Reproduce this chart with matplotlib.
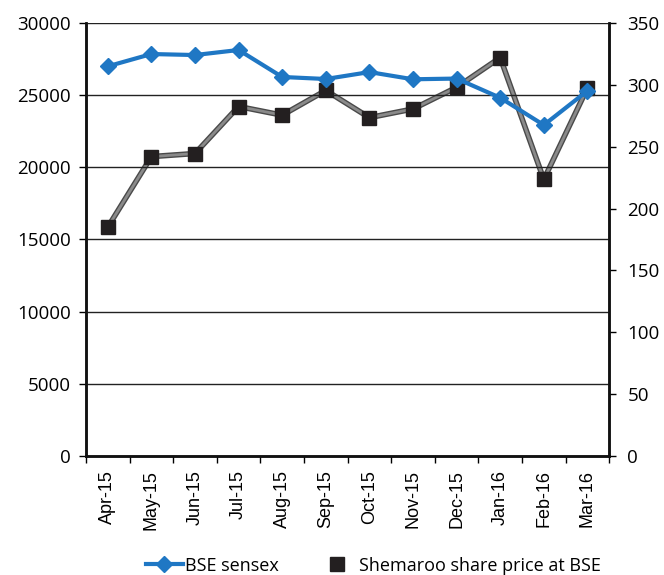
import matplotlib
matplotlib.use("Agg")
import matplotlib.pyplot as plt
import matplotlib.patheffects as pe
from matplotlib.lines import Line2D
import numpy as np

months = ["Apr-15", "May-15", "Jun-15", "Jul-15", "Aug-15", "Sep-15",
          "Oct-15", "Nov-15", "Dec-15", "Jan-16", "Feb-16", "Mar-16"]
sensex = [27000, 27850, 27780, 28130, 26260, 26120,
          26600, 26100, 26150, 24820, 22930, 25300]
shemaroo = [185, 242, 244.5, 282.5, 275.5, 295.5,
            273.5, 280.5, 298, 322, 223.5, 297.5]

fig = plt.figure(figsize=(6.64, 5.75), dpi=100)
ax = fig.add_axes([0.1295, 0.207, 0.788, 0.753])
ax2 = ax.twinx()

x = np.arange(len(months))

# grid lines (horizontal only)
for v in range(5000, 30001, 5000):
    ax.axhline(v, color='#222222', lw=1.0, zorder=0)

ax.plot(x, sensex, color='#1f77c4', lw=3, marker='D', ms=8.5,
        markeredgecolor='#1f77c4', zorder=3)

# shemaroo: grey line with dark edges, solid black squares
ax2.plot(x, shemaroo, color='#8a8a8a', lw=2, zorder=2,
         path_effects=[pe.Stroke(linewidth=4, foreground='#4a4a4a'), pe.Normal()])
ax2.plot(x, shemaroo, ls='none', marker='s', ms=10,
         markerfacecolor='#231f20', markeredgecolor='#231f20', zorder=3)

ax2.set_zorder(1)
ax.set_zorder(2)
ax.patch.set_visible(False)

ax.set_xlim(-0.5, 11.5)
ax.set_ylim(0, 30000)
ax2.set_ylim(0, 350)
ax.set_yticks(range(0, 30001, 5000))
ax2.set_yticks(range(0, 351, 50))

ax.set_xticks(x)
ax.set_xticklabels(months, rotation=90, fontfamily='Liberation Sans', fontsize=13)
ax.set_xticks(np.arange(-0.5, 12, 1), minor=True)
ax.tick_params(axis='x', which='major', length=0, pad=10)
ax.tick_params(axis='x', which='minor', length=5, width=1, direction='out')
ax.tick_params(axis='y', length=5, width=1, direction='out', labelsize=13.5, pad=6)
ax2.tick_params(axis='y', length=5, width=1, direction='out', labelsize=13.5, pad=8)
for lab in ax.get_yticklabels() + ax2.get_yticklabels():
    lab.set_fontfamily('Open Sans')

for a in (ax, ax2):
    a.spines['top'].set_visible(False)
    for s in ('left', 'right', 'bottom'):
        a.spines[s].set_linewidth(1.8)
        a.spines[s].set_color('#111111')

handles = [Line2D([], [], color='#1f77c4', lw=3, marker='D', ms=8),
           Line2D([], [], color='none', marker='s', ms=10,
                  markerfacecolor='#231f20', markeredgecolor='#231f20')]
fig.legend(handles, ["BSE sensex", "Shemaroo share price at BSE"],
           loc='center', bbox_to_anchor=(0.562, 0.016), ncol=2, frameon=False,
           prop={'family': 'Open Sans', 'size': 13}, handlelength=2.05,
           handletextpad=0.15, columnspacing=2.2)

fig.savefig("out.png", dpi=100)
